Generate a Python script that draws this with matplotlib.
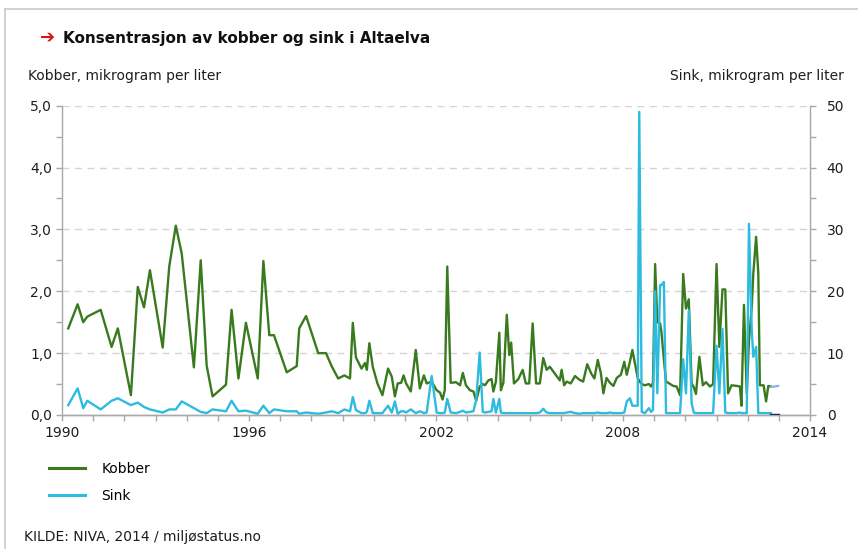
import matplotlib
matplotlib.use("Agg")
import matplotlib.pyplot as plt
from matplotlib.lines import Line2D
from matplotlib.ticker import MultipleLocator, FixedLocator, FuncFormatter

# === Data ===
years = [
    1990.20, 1990.50, 1990.68, 1990.81, 1991.24, 1991.59, 1991.79, 1992.21, 1992.43, 1992.63,
    1992.82, 1993.23, 1993.44, 1993.65, 1993.84, 1994.23, 1994.45, 1994.64, 1994.83, 1995.26,
    1995.44, 1995.66, 1995.90, 1996.28, 1996.46, 1996.65, 1996.80, 1997.21, 1997.53, 1997.61,
    1997.83, 1998.22, 1998.47, 1998.65, 1998.86, 1999.06, 1999.24, 1999.33, 1999.43, 1999.61,
    1999.72, 1999.78, 1999.86, 1999.97, 2000.12, 2000.28, 2000.46, 2000.58, 2000.68, 2000.77,
    2000.88, 2000.96, 2001.04, 2001.19, 2001.35, 2001.48, 2001.61, 2001.70, 2001.86, 2002.02,
    2002.13, 2002.21, 2002.28, 2002.36, 2002.47, 2002.64, 2002.77, 2002.86, 2002.96, 2003.09,
    2003.20, 2003.29, 2003.40, 2003.50, 2003.57, 2003.68, 2003.78, 2003.84, 2003.92, 2004.03,
    2004.08, 2004.16, 2004.27, 2004.35, 2004.41, 2004.50, 2004.64, 2004.78, 2004.88, 2004.99,
    2005.10, 2005.21, 2005.33, 2005.44, 2005.55, 2005.65, 2005.81, 2005.97, 2006.03, 2006.11,
    2006.19, 2006.32, 2006.46, 2006.60, 2006.72, 2006.85, 2006.98, 2007.08, 2007.19, 2007.29,
    2007.37, 2007.47, 2007.58, 2007.69, 2007.80, 2007.93, 2008.04, 2008.12, 2008.22, 2008.30,
    2008.38, 2008.47, 2008.52, 2008.60, 2008.70, 2008.83, 2008.90, 2008.96, 2009.03, 2009.10,
    2009.19, 2009.23, 2009.31, 2009.38, 2009.45, 2009.61, 2009.72, 2009.83, 2009.93, 2010.02,
    2010.11, 2010.20, 2010.27, 2010.34, 2010.45, 2010.56, 2010.66, 2010.79, 2010.89, 2011.00,
    2011.09, 2011.19, 2011.28, 2011.37, 2011.48, 2011.65, 2011.75, 2011.80, 2011.88, 2011.97,
    2012.04, 2012.13, 2012.18, 2012.27, 2012.34, 2012.39, 2012.51, 2012.59, 2012.66, 2012.74,
]

kobber = [
    1.40, 1.79, 1.50, 1.59, 1.70, 1.10, 1.40, 0.32, 2.07, 1.74,
    2.34, 1.09, 2.40, 3.06, 2.61, 0.77, 2.50, 0.80, 0.30, 0.49,
    1.70, 0.59, 1.49, 0.59, 2.49, 1.29, 1.29, 0.69, 0.79, 1.40,
    1.60, 1.00, 1.00, 0.79, 0.59, 0.64, 0.59, 1.49, 0.93, 0.75,
    0.84, 0.73, 1.16, 0.78, 0.51, 0.32, 0.75, 0.62, 0.30, 0.51,
    0.52, 0.64, 0.51, 0.38, 1.05, 0.43, 0.64, 0.51, 0.54, 0.40,
    0.36, 0.25, 0.40, 2.40, 0.52, 0.53, 0.48, 0.68, 0.48, 0.40,
    0.38, 0.23, 0.46, 0.50, 0.48, 0.56, 0.58, 0.38, 0.54, 1.33,
    0.40, 0.52, 1.62, 0.97, 1.17, 0.51, 0.58, 0.73, 0.51, 0.51,
    1.48, 0.51, 0.51, 0.92, 0.73, 0.78, 0.67, 0.56, 0.73, 0.48,
    0.54, 0.51, 0.63, 0.57, 0.54, 0.82, 0.67, 0.59, 0.89, 0.67,
    0.35, 0.60, 0.52, 0.47, 0.60, 0.65, 0.86, 0.65, 0.86, 1.05,
    0.84, 0.60, 0.55, 0.50, 0.48, 0.50, 0.46, 0.52, 2.44, 1.50,
    1.48, 1.35, 0.90, 0.54, 0.52, 0.47, 0.46, 0.32, 2.28, 1.72,
    1.87, 0.51, 0.45, 0.34, 0.94, 0.48, 0.53, 0.46, 0.50, 2.44,
    1.10, 2.03, 2.03, 0.35, 0.48, 0.47, 0.46, 0.15, 1.78, 0.35,
    1.20, 1.75, 2.29, 2.88, 2.29, 0.48, 0.48, 0.22, 0.47, 0.46,
]

sink = [
    1.6, 4.3, 1.1, 2.3, 0.9, 2.3, 2.7, 1.6, 2.0, 1.3,
    0.9, 0.4, 0.9, 0.9, 2.2, 1.1, 0.5, 0.3, 0.9, 0.6,
    2.3, 0.6, 0.7, 0.2, 1.5, 0.3, 0.9, 0.6, 0.6, 0.2,
    0.4, 0.2, 0.4, 0.6, 0.3, 0.9, 0.6, 2.9, 0.8, 0.3,
    0.3, 0.5, 2.3, 0.3, 0.3, 0.3, 1.5, 0.4, 2.2, 0.2,
    0.6, 0.6, 0.4, 0.9, 0.3, 0.6, 0.3, 0.4, 6.3, 0.4,
    0.3, 0.3, 0.4, 2.6, 0.4, 0.3, 0.5, 0.7, 0.4, 0.5,
    0.6, 2.5, 10.1, 0.5, 0.4, 0.5, 0.6, 2.6, 0.4, 2.6,
    0.4, 0.3, 0.3, 0.3, 0.3, 0.3, 0.3, 0.3, 0.3, 0.3,
    0.3, 0.3, 0.4, 1.0, 0.4, 0.3, 0.3, 0.3, 0.3, 0.3,
    0.4, 0.5, 0.3, 0.2, 0.3, 0.3, 0.3, 0.3, 0.4, 0.3,
    0.3, 0.3, 0.4, 0.3, 0.3, 0.3, 0.4, 2.2, 2.7, 1.5,
    1.5, 1.5, 49.0, 0.5, 0.3, 1.1, 0.5, 0.8, 20.0, 3.5,
    21.0, 21.0, 21.5, 0.3, 0.3, 0.3, 0.3, 0.3, 9.0, 3.5,
    16.9, 1.9, 0.4, 0.3, 0.3, 0.3, 0.3, 0.3, 0.3, 11.2,
    3.5, 13.9, 0.4, 0.3, 0.3, 0.3, 0.4, 0.3, 0.3, 0.3,
    30.9, 13.7, 9.4, 11.0, 0.3, 0.3, 0.3, 0.3, 0.3, 0.3,
]

# short provisional tails at the end of the series
tail_years = [2012.74, 2012.98]
kobber_tail = [0.45, 0.47]
sink_tail = [0.0, 0.0]

x_ticks = [1990, 1996, 2002, 2008, 2014]

assert len(years) == len(kobber) == len(sink)

GREEN = "#3a7a1e"
CYAN = "#2dbbe0"
GRID = "#d4d4d4"
AXIS = "#a8a8a8"
TEXT = "#1e1e1e"

plt.rcParams["font.family"] = ["DejaVu Sans"]

fig = plt.figure(figsize=(8.58, 5.49), dpi=100)
ax = fig.add_axes([0.0723, 0.2441, 0.8718, 0.5634])
ax2 = ax.twinx()

for y in [1, 2, 3, 4, 5]:
    ax.axhline(y, color=GRID, lw=1.0, ls=(0, (5, 4)), zorder=0)

ax.plot(years, kobber, color=GREEN, lw=1.7, zorder=3)
ax.plot(tail_years, kobber_tail, color="#8ab0e6", lw=1.5, zorder=3)
ax2.plot(years, sink, color=CYAN, lw=1.7, zorder=2)
ax2.plot(tail_years, sink_tail, color="#1c2d6e", lw=2.5, zorder=3)

ax.set_xlim(1990, 2014)
ax.set_ylim(0, 5)
ax2.set_ylim(0, 50)

ax.xaxis.set_major_locator(FixedLocator(x_ticks))
ax.xaxis.set_minor_locator(MultipleLocator(1))
ax.yaxis.set_major_locator(MultipleLocator(1))
ax.yaxis.set_minor_locator(MultipleLocator(0.5))
ax2.yaxis.set_major_locator(MultipleLocator(10))
ax2.yaxis.set_minor_locator(MultipleLocator(5))

ax.yaxis.set_major_formatter(FuncFormatter(lambda v, p: f"{v:.1f}".replace(".", ",")))
ax.xaxis.set_major_formatter(FuncFormatter(lambda v, p: f"{int(v)}"))

for a in (ax, ax2):
    a.spines["top"].set_visible(False)
    for s in ("left", "right", "bottom"):
        a.spines[s].set_color(AXIS)
        a.spines[s].set_linewidth(1.0)
    a.tick_params(which="both", color=AXIS, length=4, width=1, labelsize=10, labelcolor=TEXT)
ax.spines["right"].set_visible(False)
ax2.spines["left"].set_visible(False)
ax.tick_params(axis="y", pad=3)
ax.tick_params(axis="x", pad=4)
ax2.tick_params(axis="y", pad=8)

# titles and axis captions
fig.text(0.047, 0.931, "\u2794", color="#d01818", fontsize=13, fontweight="bold", va="center")
fig.text(0.073, 0.930, "Konsentrasjon av kobber og sink i Altaelva", color="#111111",
         fontsize=11, fontweight="bold", va="center")
fig.text(0.033, 0.862, "Kobber, mikrogram per liter", color=TEXT, fontsize=10, va="center")
fig.text(0.983, 0.862, "Sink, mikrogram per liter", color=TEXT, fontsize=10, va="center", ha="right")
fig.text(0.028, 0.022, "KILDE: NIVA, 2014 / miljøstatus.no", color=TEXT, fontsize=10, va="center")

# legend
handles = [Line2D([], [], color=GREEN, lw=2.2), Line2D([], [], color=CYAN, lw=2.2)]
fig.legend(handles, ["Kobber", "Sink"], loc="upper left", bbox_to_anchor=(0.042, 0.182),
           frameon=False, fontsize=10, handlelength=2.6, handletextpad=1.2, labelspacing=0.95)

# outer frame
fig.add_artist(Line2D([0.006, 1.0], [0.983, 0.983], color="#c5ccc5", lw=1.2))
fig.add_artist(Line2D([0.006, 0.006], [0.0, 0.983], color="#c5ccc5", lw=1.2))

fig.savefig("out.png", dpi=100)
